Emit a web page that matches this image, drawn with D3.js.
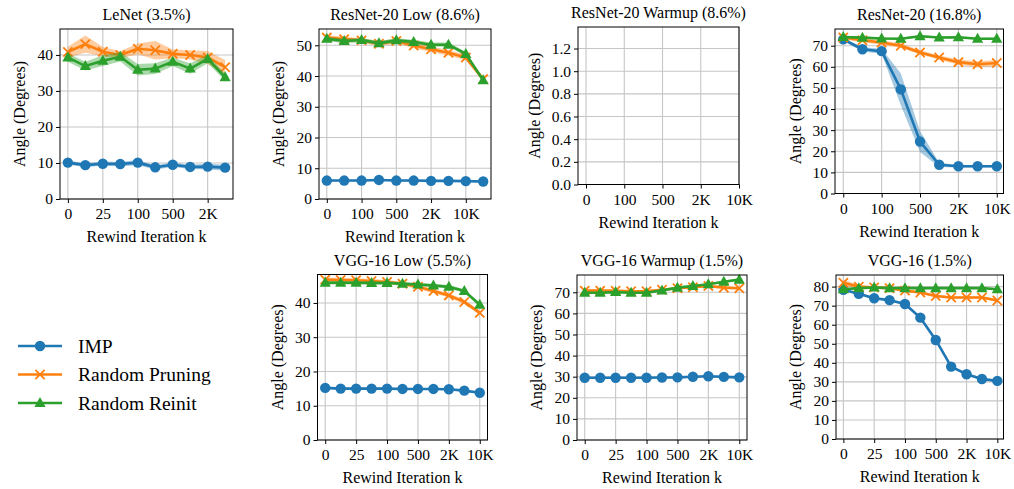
<!DOCTYPE html>
<html><head><meta charset="utf-8">
<script src="https://cdn.jsdelivr.net/npm/d3@7"></script>
<style>
body{margin:0;background:#fff}
svg{display:block}
svg text{font-family:"Liberation Serif","Times New Roman",Times,Tinos,"Nimbus Roman","DejaVu Serif",serif !important;fill:#000}
</style>
</head><body>
<svg id="c" width="1014" height="489"></svg>
<script>
// ---------- DATA ----------
const seriesNames = ["IMP", "Random Pruning", "Random Reinit"];
const colors = ["#1f77b4", "#ff7f0e", "#2ca02c"];

const ticksLenet = ["0", "25", "100", "500", "2K"];
const ticksResLow = ["0", "100", "500", "2K", "10K"];
const ticksResWarm = ["0", "100", "500", "2K", "10K"];
const ticksRes = ["0", "100", "500", "2K", "10K"];
const ticksVgg = ["0", "25", "100", "500", "2K", "10K"];

const yTicksDeg40 = [0, 10, 20, 30, 40];
const yTicksDeg50 = [0, 10, 20, 30, 40, 50];
const yTicksDeg70 = [0, 10, 20, 30, 40, 50, 60, 70];
const yTicksDeg80 = [0, 10, 20, 30, 40, 50, 60, 70, 80];
const yTicksWarm = [0, 0.2, 0.4, 0.6, 0.8, 1.0, 1.2];

// LeNet (3.5%)
const lenetIMP = [10.1, 9.4, 9.8, 9.7, 10.1, 8.8, 9.5, 8.9, 9.0, 8.7];
const lenetIMPErr = [0.6, 0.5, 0.6, 0.6, 0.7, 0.6, 0.6, 0.6, 0.8, 0.8];
const lenetRP = [40.8, 43.0, 40.9, 40.0, 41.7, 41.3, 40.3, 40.0, 39.3, 36.6];
const lenetRPErr = [1.5, 2.4, 1.3, 1.0, 1.5, 2.6, 1.2, 1.3, 1.8, 2.0];
const lenetRR = [39.3, 36.9, 38.4, 39.5, 35.9, 36.2, 38.1, 36.2, 38.9, 33.8];
const lenetRRErr = [1.2, 1.2, 1.5, 1.3, 1.6, 1.5, 1.2, 1.4, 1.2, 1.0];

// ResNet-20 Low (8.6%)
const resLowIMP = [6.0, 6.0, 6.0, 6.2, 6.0, 6.0, 5.9, 5.9, 5.8, 5.7];
const resLowIMPErr = [0.3, 0.3, 0.3, 0.3, 0.3, 0.3, 0.3, 0.3, 0.3, 0.3];
const resLowRP = [52.5, 52.0, 51.6, 50.5, 51.4, 49.9, 48.7, 47.6, 46.0, 39.0];
const resLowRPErr = [0.8, 0.8, 0.7, 0.8, 0.8, 0.9, 0.9, 0.9, 0.9, 0.8];
const resLowRR = [52.1, 51.4, 51.7, 50.7, 51.6, 51.1, 50.2, 50.2, 47.2, 38.6];
const resLowRRErr = [0.7, 0.7, 0.7, 0.7, 0.7, 0.7, 0.7, 0.7, 0.7, 0.7];

// ResNet-20 (16.8%)
const resIMP = [73.0, 68.3, 67.4, 49.3, 24.6, 13.6, 12.9, 12.9, 12.9];
const resIMPErr = [0.8, 1.0, 1.2, 7.5, 5.0, 1.0, 0.6, 0.6, 0.6];
const resRP = [73.9, 72.6, 71.5, 70.0, 66.8, 64.4, 62.2, 61.2, 61.8];
const resRPErr = [1.0, 1.0, 1.0, 1.0, 1.0, 1.0, 1.2, 1.4, 1.4];
const resRR = [74.1, 73.8, 73.4, 73.3, 74.5, 73.9, 74.0, 73.3, 73.3];
const resRRErr = [0.5, 0.5, 0.5, 0.5, 0.5, 0.5, 0.5, 0.5, 0.5];

// VGG-16 Low (5.5%)
const vggLowIMP = [15.2, 15.0, 15.0, 15.0, 15.0, 14.9, 14.9, 14.9, 14.8, 14.4, 13.8];
const vggLowIMPErr = [0.3, 0.3, 0.3, 0.3, 0.3, 0.3, 0.3, 0.3, 0.3, 0.3, 0.3];
const vggLowRP = [46.8, 46.7, 46.6, 46.4, 46.1, 45.6, 44.7, 43.5, 42.2, 40.3, 37.1];
const vggLowRPErr = [0.6, 0.6, 0.6, 0.6, 0.6, 0.6, 0.6, 0.6, 0.6, 0.6, 0.6];
const vggLowRR = [45.9, 45.9, 45.9, 45.8, 45.8, 45.6, 45.4, 45.1, 44.7, 43.5, 39.5];
const vggLowRRErr = [0.5, 0.5, 0.5, 0.5, 0.5, 0.5, 0.5, 0.5, 0.5, 0.5, 0.5];

// VGG-16 Warmup (1.5%)
const vggWarmIMP = [29.5, 29.5, 29.5, 29.5, 29.5, 29.6, 29.7, 30.0, 30.2, 29.9, 29.7];
const vggWarmIMPErr = [0.4, 0.4, 0.4, 0.4, 0.4, 0.4, 0.4, 0.4, 0.4, 0.4, 0.4];
const vggWarmRP = [70.8, 70.8, 70.7, 70.5, 70.5, 71.2, 71.9, 72.4, 73.0, 72.2, 71.9];
const vggWarmRPErr = [0.6, 0.6, 0.6, 0.6, 0.6, 0.6, 0.6, 0.6, 0.6, 0.6, 0.6];
const vggWarmRR = [69.8, 69.8, 70.1, 69.8, 69.8, 70.9, 72.2, 73.0, 73.8, 75.0, 76.0];
const vggWarmRRErr = [0.5, 0.5, 0.5, 0.5, 0.5, 0.5, 0.5, 0.5, 0.5, 0.5, 0.5];

// VGG-16 (1.5%)
const vggIMP = [78.3, 76.2, 73.9, 72.9, 70.9, 63.7, 52.0, 38.0, 34.0, 31.5, 30.5];
const vggIMPErr = [0.6, 0.6, 0.6, 0.6, 0.6, 0.6, 0.6, 0.6, 0.6, 0.6, 0.6];
const vggRP = [82.0, 80.0, 79.5, 79.2, 77.9, 76.9, 75.1, 74.3, 74.3, 74.3, 72.7];
const vggRPErr = [1.5, 0.8, 0.7, 0.7, 0.7, 0.7, 0.7, 0.7, 0.7, 0.7, 0.7];
const vggRR = [78.6, 79.2, 79.5, 79.2, 79.2, 79.2, 79.2, 79.2, 79.2, 79.2, 78.6];
const vggRRErr = [0.5, 0.5, 0.5, 0.5, 0.5, 0.5, 0.5, 0.5, 0.5, 0.5, 0.5];

// ---------- LAYOUT ----------
const FONT = '"Liberation Serif","Times New Roman",Times,Tinos,"Nimbus Roman","DejaVu Serif",serif';
const panels = [
  {title: "LeNet (3.5%)", x0: 60, x1: 233, y0: 29, y1: 199, xdom: [-0.45, 9.45], ymax: 47.2,
   yticks: yTicksDeg40, yfmt: d3.format("d"), labX: 19, tickIdx: [0, 2, 4, 6, 8], tickLab: ticksLenet,
   series: [[lenetIMP, lenetIMPErr], [lenetRP, lenetRPErr], [lenetRR, lenetRRErr]]},
  {title: "ResNet-20 Low (8.6%)", x0: 319, x1: 491, y0: 29, y1: 199, xdom: [-0.45, 9.45], ymax: 55.3,
   yticks: yTicksDeg50, yfmt: d3.format("d"), labX: 278, tickIdx: [0, 2, 4, 6, 8], tickLab: ticksResLow,
   series: [[resLowIMP, resLowIMPErr], [resLowRP, resLowRPErr], [resLowRR, resLowRRErr]]},
  {title: "ResNet-20 Warmup (8.6%)", x0: 578, x1: 739, y0: 27, y1: 184.5, xdom: [-0.42, 8], ymax: 1.39,
   yticks: yTicksWarm, yfmt: d3.format(".1f"), labX: 534, tickIdx: [0, 2, 4, 6, 8], tickLab: ticksResWarm,
   series: []},
  {title: "ResNet-20 (16.8%)", x0: 835, x1: 1003.5, y0: 29, y1: 193.5, xdom: [-0.43, 8.35], ymax: 77.9,
   yticks: yTicksDeg70, yfmt: d3.format("d"), labX: 795, tickIdx: [0, 2, 4, 6, 8], tickLab: ticksRes,
   series: [[resIMP, resIMPErr], [resRP, resRPErr], [resRR, resRRErr]]},
  {title: "VGG-16 Low (5.5%)", x0: 317.5, x1: 487.5, y0: 274.5, y1: 440, xdom: [-0.5, 10.5], ymax: 48.3,
   yticks: yTicksDeg40, yfmt: d3.format("d"), labX: 277, tickIdx: [0, 2, 4, 6, 8, 10], tickLab: ticksVgg,
   series: [[vggLowIMP, vggLowIMPErr], [vggLowRP, vggLowRPErr], [vggLowRR, vggLowRRErr]]},
  {title: "VGG-16 Warmup (1.5%)", x0: 577, x1: 747, y0: 275, y1: 440, xdom: [-0.5, 10.5], ymax: 78.2,
   yticks: yTicksDeg70, yfmt: d3.format("d"), labX: 536, tickIdx: [0, 2, 4, 6, 8, 10], tickLab: ticksVgg,
   series: [[vggWarmIMP, vggWarmIMPErr], [vggWarmRP, vggWarmRPErr], [vggWarmRR, vggWarmRRErr]]},
  {title: "VGG-16 (1.5%)", x0: 836, x1: 1003.5, y0: 275, y1: 439, xdom: [-0.48, 10.4], ymax: 86.1,
   yticks: yTicksDeg80, yfmt: d3.format("d"), labX: 795, tickIdx: [0, 2, 4, 6, 8, 10], tickLab: ticksVgg,
   series: [[vggIMP, vggIMPErr], [vggRP, vggRPErr], [vggRR, vggRRErr]]}
];

const svg = d3.select("#c");
const LW = 2.6;

function drawMarker(g, type, x, y, color) {
  if (type === 0) {
    g.append("circle").attr("cx", x).attr("cy", y).attr("r", 5.2).attr("fill", color);
  } else if (type === 1) {
    const s = 4.6;
    g.append("path").attr("d", `M${x - s},${y - s}L${x + s},${y + s}M${x - s},${y + s}L${x + s},${y - s}`)
      .attr("stroke", color).attr("stroke-width", 1.8).attr("fill", "none");
  } else {
    g.append("path").attr("d", `M${x},${y - 6}L${x + 5.6},${y + 4}L${x - 5.6},${y + 4}Z`).attr("fill", color);
  }
}

panels.forEach(p => {
  const g = svg.append("g");
  const x = d3.scaleLinear().domain(p.xdom).range([p.x0, p.x1]);
  const y = d3.scaleLinear().domain([0, p.ymax]).range([p.y1, p.y0]);

  const grid = g.append("g").attr("stroke", "#c6c6c6").attr("stroke-width", 1.1);
  p.tickIdx.forEach(t => grid.append("line").attr("x1", x(t)).attr("x2", x(t)).attr("y1", p.y0).attr("y2", p.y1));
  p.yticks.forEach(t => grid.append("line").attr("x1", p.x0).attr("x2", p.x1).attr("y1", y(t)).attr("y2", y(t)));

  p.series.forEach((s, si) => {
    const vals = s[0], err = s[1];
    const pts = vals.map((v, i) => ({i, v, e: err[i]}));
    const area = d3.area().x(d => x(d.i)).y0(d => y(d.v - d.e)).y1(d => y(d.v + d.e));
    g.append("path").attr("d", area(pts)).attr("fill", colors[si]).attr("fill-opacity", 0.4);
    const line = d3.line().x(d => x(d.i)).y(d => y(d.v));
    g.append("path").attr("d", line(pts)).attr("fill", "none").attr("stroke", colors[si])
      .attr("stroke-width", LW).attr("stroke-linejoin", "round");
    pts.forEach(d => drawMarker(g, si, x(d.i), y(d.v), colors[si]));
  });

  g.append("rect").attr("x", p.x0).attr("y", p.y0).attr("width", p.x1 - p.x0).attr("height", p.y1 - p.y0)
    .attr("fill", "none").attr("stroke", "#000").attr("stroke-width", 1);

  const xa = d3.axisBottom(x).tickValues(p.tickIdx).tickFormat((d, i) => p.tickLab[i]).tickSize(4).tickPadding(5);
  const gx = g.append("g").attr("transform", `translate(0,${p.y1})`).call(xa);
  const ya = d3.axisLeft(y).tickValues(p.yticks).tickFormat(p.yfmt).tickSize(4).tickPadding(3);
  const gy = g.append("g").attr("transform", `translate(${p.x0},0)`).call(ya);
  [gx, gy].forEach(a => {
    a.attr("font-family", FONT).attr("font-size", 15.5);
    a.select(".domain").remove();
    a.selectAll(".tick line").attr("stroke", "#000").attr("stroke-width", 1);
    a.selectAll(".tick text").attr("fill", "#000");
  });

  g.append("text").attr("x", (p.x0 + p.x1) / 2).attr("y", p.y0 - 9).attr("text-anchor", "middle")
    .attr("font-family", FONT).attr("font-size", 16).text(p.title);
  g.append("text").attr("x", (p.x0 + p.x1) / 2).attr("y", p.y1 + 43).attr("text-anchor", "middle")
    .attr("font-family", FONT).attr("font-size", 16).text("Rewind Iteration k");
  g.append("text").attr("transform", `translate(${p.labX},${(p.y0 + p.y1) / 2}) rotate(-90)`)
    .attr("text-anchor", "middle").attr("dy", "0.35em").attr("font-family", FONT).attr("font-size", 16)
    .text("Angle (Degrees)");
});

const leg = svg.append("g");
const legY = [346, 374.5, 403];
seriesNames.forEach((n, i) => {
  leg.append("line").attr("x1", 18).attr("x2", 62).attr("y1", legY[i]).attr("y2", legY[i])
    .attr("stroke", colors[i]).attr("stroke-width", LW);
  drawMarker(leg, i, 40, legY[i], colors[i]);
  leg.append("text").attr("x", 78).attr("y", legY[i]).attr("dy", "0.35em")
    .attr("font-family", FONT).attr("font-size", 19.5).text(n);
});
</script>
</body></html>
